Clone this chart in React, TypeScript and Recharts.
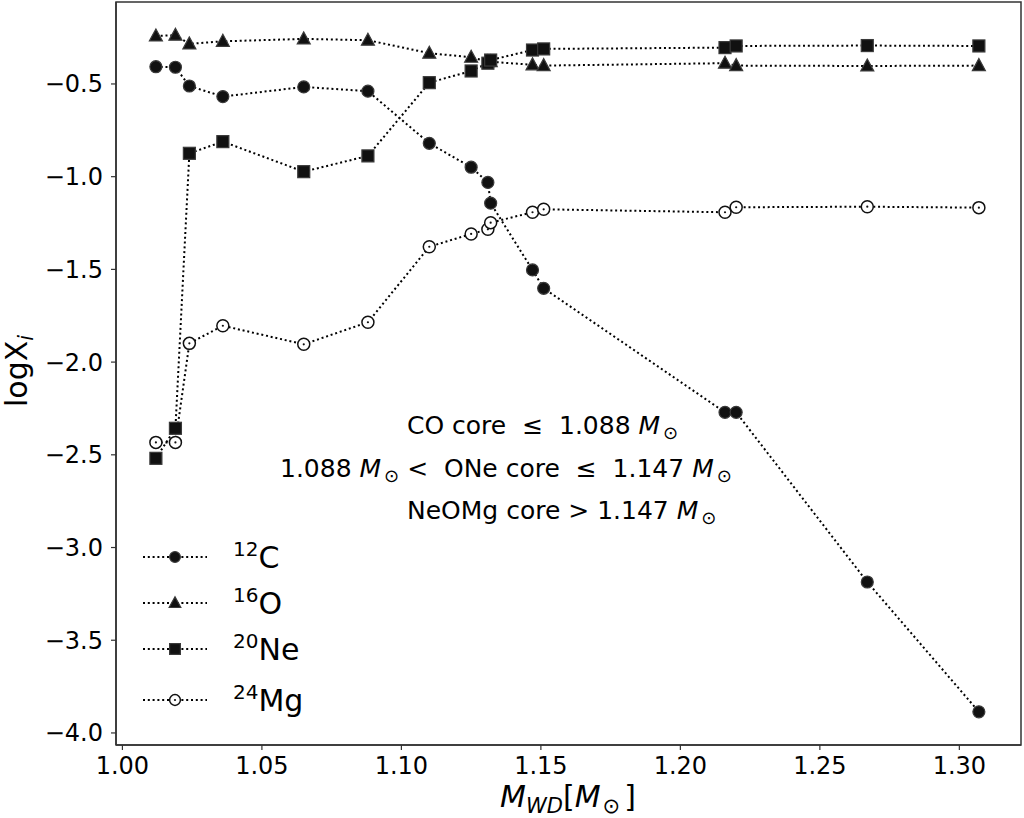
import React from 'react';
import { LineChart, Line, XAxis, YAxis, ReferenceArea, Legend } from 'recharts';

// White dwarf mass (M_sun) and log mass fractions
const masses = [1.012, 1.019, 1.024, 1.036, 1.065, 1.088, 1.110, 1.125, 1.131, 1.132, 1.147, 1.151, 1.216, 1.220, 1.267, 1.307];
const c12 = [-0.407, -0.410, -0.511, -0.568, -0.516, -0.539, -0.820, -0.949, -1.031, -1.143, -1.503, -1.602, -2.271, -2.271, -3.186, -3.886];
const o16 = [-0.241, -0.237, -0.284, -0.270, -0.257, -0.264, -0.334, -0.356, -0.380, -0.380, -0.397, -0.401, -0.388, -0.401, -0.403, -0.401];
const ne20 = [-2.519, -2.357, -0.874, -0.811, -0.973, -0.888, -0.493, -0.430, -0.388, -0.371, -0.317, -0.311, -0.304, -0.295, -0.293, -0.295];
const mg24 = [-2.433, -2.433, -1.899, -1.804, -1.904, -1.785, -1.378, -1.309, -1.284, -1.248, -1.192, -1.176, -1.192, -1.165, -1.162, -1.167];

const xTicks = [1.0, 1.05, 1.1, 1.15, 1.2, 1.25, 1.3];
const yTicks = [-0.5, -1.0, -1.5, -2.0, -2.5, -3.0, -3.5, -4.0];
const xDomain: [number, number] = [0.9977, 1.3221];
const yDomain: [number, number] = [-4.065, -0.058];

const data = masses.map((m, i) => ({ m, c12: c12[i], o16: o16[i], ne20: ne20[i], mg24: mg24[i] }));

const FONT = 'DejaVu Sans';
const DASH = '2 2.8';
const EDGE = '#3a3a3a';

// marker shapes (matplotlib o, ^, s, $\odot$)
function Marker({ kind, cx, cy, s = 1 }: { kind: string; cx: number; cy: number; s?: number }) {
  if (kind === 'circle') return <circle cx={cx} cy={cy} r={6 * s} fill="#111" stroke={EDGE} strokeWidth={1.2} />;
  if (kind === 'triangle') {
    const pts = `${cx},${cy - 7 * s} ${cx - 6.5 * s},${cy + 5 * s} ${cx + 6.5 * s},${cy + 5 * s}`;
    return <polygon points={pts} fill="#111" stroke={EDGE} strokeWidth={1.2} />;
  }
  if (kind === 'square') return <rect x={cx - 6 * s} y={cy - 6 * s} width={12 * s} height={12 * s} fill="#111" stroke={EDGE} strokeWidth={1.2} />;
  return (
    <g>
      <circle cx={cx} cy={cy} r={6 * s} fill="#fff" stroke="#111" strokeWidth={1.5} />
      <circle cx={cx} cy={cy} r={1.1} fill="#111" />
    </g>
  );
}

const dotFor = (kind: string) => (props: any) => {
  const { cx, cy, index } = props;
  if (cx == null || cy == null) return <g key={`${kind}-${index}`} />;
  return <g key={`${kind}-${index}`}><Marker kind={kind} cx={cx} cy={cy} /></g>;
};

const legendRows = [
  { kind: 'circle', sup: '12', el: 'C', y: 27 },
  { kind: 'triangle', sup: '16', el: 'O', y: 73 },
  { kind: 'square', sup: '20', el: 'Ne', y: 119 },
  { kind: 'odot', sup: '24', el: 'Mg', y: 170 },
];

function LegendBox() {
  return (
    <svg width={220} height={200} style={{ display: 'block', overflow: 'visible' }}>
      {legendRows.map((r) => (
        <g key={r.el}>
          <line x1={13} x2={77} y1={r.y} y2={r.y} stroke="#000" strokeWidth={2} strokeDasharray={DASH} />
          <Marker kind={r.kind} cx={45} cy={r.y} s={0.9} />
          <text x={103} y={r.y + 11} fontFamily={FONT} fontSize={30} fill="#000">
            <tspan fontSize={20} dy={-12}>{r.sup}</tspan>
            <tspan dy={12}>{r.el}</tspan>
          </text>
        </g>
      ))}
    </svg>
  );
}

const Sun = ({ size }: { size: number }) => (
  <tspan fontSize={size} dy={5} dx={3}>⊙</tspan>
);

function Annotations() {
  return (
    <svg width={1024} height={818} style={{ position: 'absolute', left: 0, top: 0, pointerEvents: 'none' }}>
      <g fontFamily={FONT} fontSize={25} fill="#000">
        <text x={407} y={434}>
          CO core {'\u00a0≤\u00a0'} 1.088 <tspan fontStyle="italic">M</tspan><Sun size={18} />
        </text>
        <text x={280} y={477}>
          1.088 <tspan fontStyle="italic">M</tspan><Sun size={18} />
          <tspan dy={-5}>{'\u00a0<\u00a0'} ONe core {'\u00a0≤\u00a0'} 1.147 </tspan>
          <tspan fontStyle="italic">M</tspan><Sun size={18} />
        </text>
        <text x={407} y={519}>
          NeOMg core {'>'} 1.147 <tspan fontStyle="italic">M</tspan><Sun size={18} />
        </text>
      </g>
      {/* axis titles */}
      <text x={568} y={807} textAnchor="middle" fontFamily={FONT} fontSize={30} fill="#000">
        <tspan fontStyle="italic">M</tspan>
        <tspan fontStyle="italic" fontSize={21} dy={6}>WD</tspan>
        <tspan dy={-6}>[</tspan>
        <tspan fontStyle="italic">M</tspan>
        <tspan fontSize={21} dy={6} dx={2}>⊙</tspan>
        <tspan dy={-6} dx={4}>]</tspan>
      </text>
      <text x={27} y={371} textAnchor="middle" transform="rotate(-90 27 371)" fontFamily={FONT} fontSize={30} fill="#000">
        logX<tspan fontStyle="italic" fontSize={21} dy={6}>i</tspan>
      </text>
    </svg>
  );
}

const fmtY = (v: number) => v.toFixed(1).replace('-', '\u2212');
const fmtX = (v: number) => v.toFixed(2);

export default function App() {
  return (
    <div style={{ position: 'absolute', left: 0, top: 0, width: 1024, height: 818, background: '#fff' }}>
      <LineChart width={1024} height={818} data={data} margin={{ top: 2, right: 3, left: 0, bottom: 0 }}>
        <XAxis
          type="number"
          dataKey="m"
          domain={xDomain}
          allowDataOverflow
          ticks={xTicks}
          interval={0}
          tickFormatter={fmtX}
          height={73}
          tickSize={5}
          tickMargin={7}
          axisLine={{ stroke: '#333', strokeWidth: 1.5 }}
          tickLine={{ stroke: '#333', strokeWidth: 1.2 }}
          tick={{ fill: '#000', fontSize: 24, fontFamily: FONT }}
        />
        <YAxis
          type="number"
          domain={yDomain}
          allowDataOverflow
          ticks={yTicks}
          interval={0}
          tickFormatter={fmtY}
          width={116}
          tickSize={5}
          tickMargin={8}
          axisLine={{ stroke: '#333', strokeWidth: 1.5 }}
          tickLine={{ stroke: '#333', strokeWidth: 1.2 }}
          tick={{ fill: '#000', fontSize: 24, fontFamily: FONT }}
        />
        <ReferenceArea
          x1={xDomain[0]}
          x2={xDomain[1]}
          y1={yDomain[0]}
          y2={yDomain[1]}
          fill="none"
          stroke="#333"
          strokeWidth={1.5}
        />
        <Line dataKey="c12" type="linear" stroke="#000" strokeWidth={2} strokeDasharray={DASH} dot={dotFor('circle')} activeDot={false} isAnimationActive={false} />
        <Line dataKey="o16" type="linear" stroke="#000" strokeWidth={2} strokeDasharray={DASH} dot={dotFor('triangle')} activeDot={false} isAnimationActive={false} />
        <Line dataKey="ne20" type="linear" stroke="#000" strokeWidth={2} strokeDasharray={DASH} dot={dotFor('square')} activeDot={false} isAnimationActive={false} />
        <Line dataKey="mg24" type="linear" stroke="#000" strokeWidth={2} strokeDasharray={DASH} dot={dotFor('odot')} activeDot={false} isAnimationActive={false} />
        <Legend
          layout="horizontal"
          verticalAlign="middle"
          align="center"
          content={() => <LegendBox />}
          wrapperStyle={{ left: 130, top: 530, width: 220, height: 200 }}
        />
      </LineChart>
      <Annotations />
    </div>
  );
}
